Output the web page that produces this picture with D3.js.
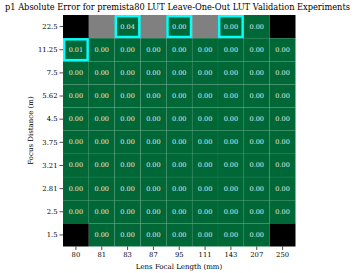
<!DOCTYPE html>
<html><head><meta charset="utf-8">
<script src="https://cdn.jsdelivr.net/npm/d3@7"></script>
<style>body{margin:0;background:#fff}svg{display:block}text{font-family:"DejaVu Serif",serif}</style>
</head><body><svg id="c" width="359" height="273"></svg>
<script>
const focalLengths = ["80","81","83","87","95","111","143","207","250"];
const focusDistances = ["22.5","11.25","7.5","5.62","4.5","3.75","3.21","2.81","2.5","1.5"];
// null = no data (black), "gray" = not evaluated
const values = [
  [null,"gray",0.04,"gray",0.00,"gray",0.00,0.00,null],
  [0.01,0,0,0,0,0,0,0,0],
  [0,0,0,0,0,0,0,0,0],
  [0,0,0,0,0,0,0,0,0],
  [0,0,0,0,0,0,0,0,0],
  [0,0,0,0,0,0,0,0,0],
  [0,0,0,0,0,0,0,0,0],
  [0,0,0,0,0,0,0,0,0],
  [0,0,0,0,0,0,0,0,0],
  [null,0,0,0,0,0,0,0,null]
];
const highlighted = [[0,"83"],[0,"95"],[0,"143"],[1,"80"]];

const svg = d3.select("#c");
const L=63,R=295.5,T=15,B=246.5;
const x = d3.scaleBand().domain(focalLengths).range([L,R]);
const y = d3.scaleBand().domain(focusDistances).range([T,B]);
const cells=[];
values.forEach((row,i)=>row.forEach((v,j)=>cells.push({r:focusDistances[i],c:focalLengths[j],v})));
const g=svg.append("g");
g.selectAll("rect.cell").data(cells).enter().append("rect")
  .attr("x",d=>x(d.c)).attr("y",d=>y(d.r)).attr("width",x.bandwidth()).attr("height",y.bandwidth())
  .attr("fill",d=>d.v===null?"#000":d.v==="gray"?"#808080":"#006837")
  .attr("stroke",d=>typeof d.v==="number"?"rgba(255,255,255,0.07)":"none").attr("stroke-width",0.6);
g.selectAll("text.val").data(cells.filter(d=>typeof d.v==="number")).enter().append("text")
  .attr("x",d=>x(d.c)+x.bandwidth()/2).attr("y",d=>y(d.r)+y.bandwidth()/2)
  .attr("text-anchor","middle").attr("dominant-baseline","central")
  .attr("font-size","6.5px").attr("fill","#e8e8e8").text(d=>d.v.toFixed(2));
g.selectAll("rect.hl").data(highlighted).enter().append("rect")
  .attr("x",d=>x(d[1])+1.2).attr("y",d=>y(focusDistances[d[0]])+1.2)
  .attr("width",x.bandwidth()-2.4).attr("height",y.bandwidth()-2.4)
  .attr("fill","none").attr("stroke","#00ffff").attr("stroke-width",2.4);

const xa=svg.append("g").attr("transform",`translate(0,${B})`).call(d3.axisBottom(x).tickSize(3.5).tickPadding(2));
const ya=svg.append("g").attr("transform",`translate(${L},0)`).call(d3.axisLeft(y).tickSize(3.5).tickPadding(2));
[xa,ya].forEach(a=>{a.select(".domain").remove();a.selectAll("line").attr("stroke","#000").attr("stroke-width",0.7);
  a.selectAll("text").attr("font-family","DejaVu Serif").attr("font-size","6.8px").attr("fill","#000");});

svg.append("text").attr("x",179).attr("y",269).attr("text-anchor","middle").attr("font-size","7px").text("Lens Focal Length (mm)");
svg.append("text").attr("transform","translate(33,130.5) rotate(-90)").attr("text-anchor","middle").attr("font-size","7px").text("Focus Distance (m)");
const title=svg.append("text").attr("x",177.5).attr("y",9.5).attr("text-anchor","middle").attr("font-size","8px").text("p1 Absolute Error for premista80 LUT Leave-One-Out LUT Validation Experiments");
const w=title.node().getComputedTextLength();
title.attr("font-size",(8*345/w).toFixed(2)+"px");
</script></body></html>
